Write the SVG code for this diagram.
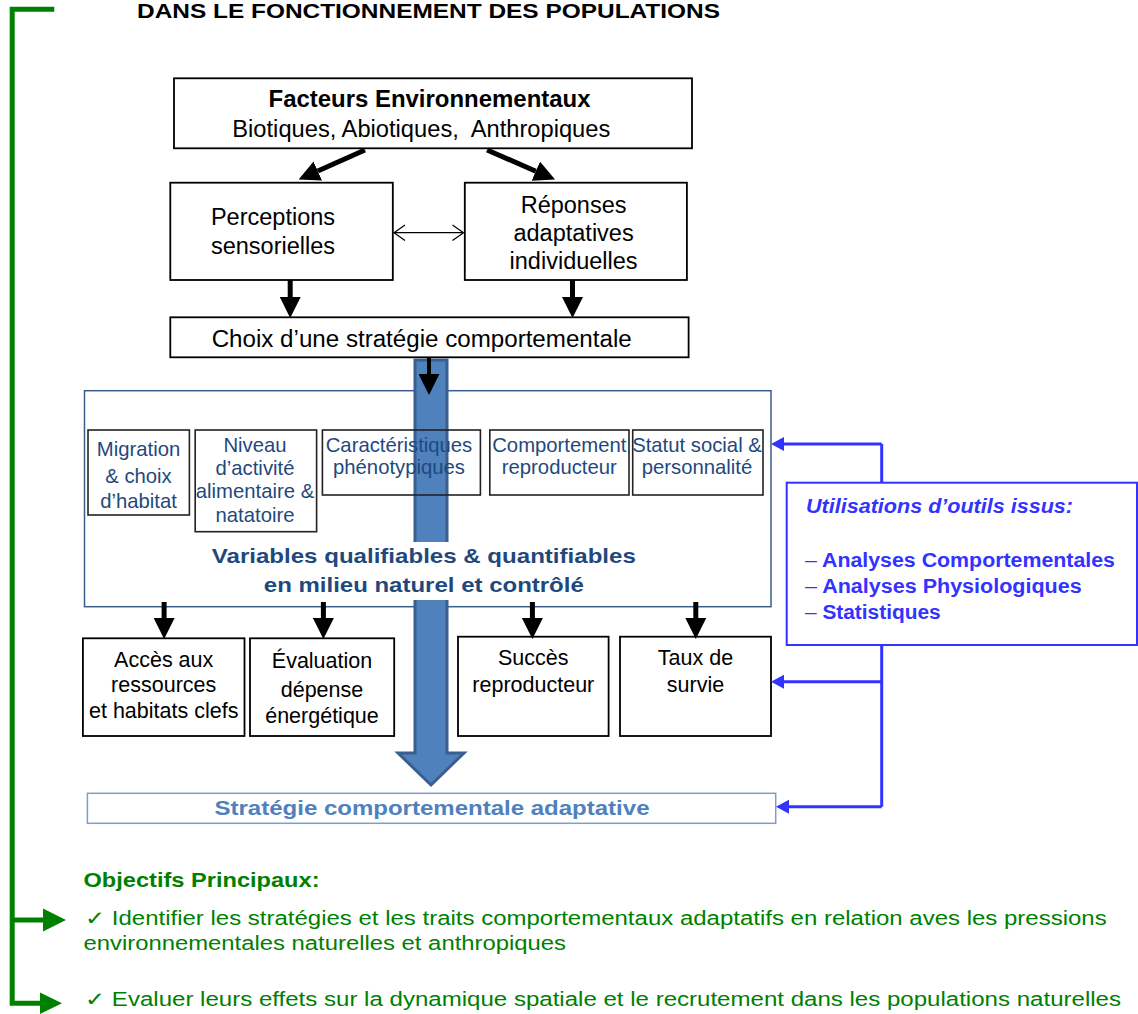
<svg xmlns="http://www.w3.org/2000/svg" width="1138" height="1014" viewBox="0 0 1138 1014">
<style>
text{font-family:"Liberation Sans",Arial,"DejaVu Sans",sans-serif;}
.bx{fill:none;stroke:#000;stroke-width:1.8;}
.sbx{fill:none;stroke:#222;stroke-width:1.6;}
.t23{font-size:23.5px;fill:#000;text-anchor:middle;}
.t21{font-size:21.5px;fill:#000;text-anchor:middle;}
.tv{font-size:20.3px;fill:#1F497D;text-anchor:middle;}
.blk{stroke:#000;stroke-width:5;fill:none;}
.bl{stroke:#3333FF;stroke-width:3;fill:none;}
.gr{stroke:#008000;stroke-width:5;fill:none;}
.gt{fill:#008000;font-size:20px;}
.ut{fill:#3333FF;font-size:20px;font-weight:bold;}
</style>
<defs>
<marker id="ah" markerUnits="userSpaceOnUse" viewBox="0 0 10 10" refX="0" refY="5" markerWidth="21" markerHeight="21" orient="auto"><path d="M0,0 L10,5 L0,10 z" fill="#000"/></marker>
<marker id="bh" markerUnits="userSpaceOnUse" viewBox="0 0 13 14" refX="0" refY="7" markerWidth="13" markerHeight="14" orient="auto"><path d="M0,0 L13,7 L0,14 z" fill="#3333FF"/></marker>
</defs>

<text x="137" y="18.3" font-size="21" font-weight="bold" fill="#000" textLength="583" lengthAdjust="spacingAndGlyphs">DANS LE FONCTIONNEMENT DES POPULATIONS</text>

<g id="facteurs">
<rect class="bx" x="174" y="78.3" width="518" height="70"/>
<text x="268.5" y="106.7" font-size="23" font-weight="bold" textLength="322" lengthAdjust="spacingAndGlyphs">Facteurs Environnementaux</text>
<text x="232.3" y="136.7" font-size="23" textLength="378" lengthAdjust="spacingAndGlyphs">Biotiques, Abiotiques,&#160; Anthropiques</text>
</g>
<g id="perceptions">
<rect class="bx" x="170.3" y="182.7" width="222.5" height="97.3"/>
<text class="t23" x="273" y="225">Perceptions</text>
<text class="t23" x="273" y="254.3">sensorielles</text>
</g>
<g id="reponses">
<rect class="bx" x="464.8" y="182.7" width="222.1" height="97.3"/>
<text class="t23" x="573.6" y="212.7">Réponses</text>
<text class="t23" x="573.6" y="240.7">adaptatives</text>
<text class="t23" x="573.6" y="269">individuelles</text>
</g>
<g id="choix">
<rect class="bx" x="170.3" y="317.3" width="518.3" height="40"/>
<text class="t23" x="421.7" y="346.7" textLength="420" lengthAdjust="spacingAndGlyphs">Choix d’une stratégie comportementale</text>
</g>

<g id="variables">
<rect x="84.5" y="390.7" width="686.5" height="216" fill="none" stroke="#385D8A" stroke-width="1.5"/>
</g>

<g id="fleche-bleue">
<path d="M415,360 H447 V753 H464 L431,785 L398,753 H415 Z" fill="#4F81BD" stroke="#3A5F8E" stroke-width="3"/>
</g>

<g id="variables-texte">
<rect x="205" y="542" width="440" height="58" fill="#fff"/>
<text x="423.8" y="563.3" font-size="21" font-weight="bold" fill="#1F497D" text-anchor="middle" textLength="424" lengthAdjust="spacingAndGlyphs">Variables qualifiables &amp; quantifiables</text>
<text x="423.8" y="591.7" font-size="21" font-weight="bold" fill="#1F497D" text-anchor="middle" textLength="320" lengthAdjust="spacingAndGlyphs">en milieu naturel et contrôlé</text>
</g>

<g id="migration">
<rect class="sbx" x="88" y="430" width="101.4" height="85"/>
<text class="tv" x="138.5" y="456">Migration</text>
<text class="tv" x="138.5" y="482.5">&amp; choix</text>
<text class="tv" x="138.5" y="508.3">d’habitat</text>
</g>
<g id="niveau">
<rect class="sbx" x="195.2" y="430" width="121.4" height="101.7"/>
<text class="tv" x="255" y="452.3">Niveau</text>
<text class="tv" x="255" y="475">d’activité</text>
<text class="tv" x="255" y="498.3">alimentaire &amp;</text>
<text class="tv" x="255" y="521.7">natatoire</text>
</g>
<g id="caracteristiques">
<rect class="sbx" x="322.4" y="430" width="158" height="65"/>
<text class="tv" x="399" y="451.7">Caractéristiques</text>
<text class="tv" x="399" y="474">phénotypiques</text>
</g>
<g id="comportement">
<rect class="sbx" x="489.8" y="430" width="139.2" height="65"/>
<text class="tv" x="559.3" y="451.7">Comportement</text>
<text class="tv" x="559.3" y="474">reproducteur</text>
</g>
<g id="statut">
<rect class="sbx" x="632.7" y="430" width="130.3" height="65"/>
<text class="tv" x="697" y="451.7">Statut social &amp;</text>
<text class="tv" x="697" y="474">personnalité</text>
</g>

<g id="acces">
<rect class="bx" x="82.9" y="638.3" width="161.6" height="97.7"/>
<text class="t21" x="163.7" y="666.7">Accès aux</text>
<text class="t21" x="163.7" y="691.7">ressources</text>
<text class="t21" x="163.7" y="718.3">et habitats clefs</text>
</g>
<g id="evaluation">
<rect class="bx" x="250" y="638.3" width="144.2" height="97.7"/>
<text class="t21" x="322" y="668" font-size="22.5">Évaluation</text>
<text class="t21" x="322" y="696.7" font-size="22.5">dépense</text>
<text class="t21" x="322" y="723.3" font-size="22.5">énergétique</text>
</g>
<g id="succes">
<rect class="bx" x="458" y="636.7" width="150.6" height="99.3"/>
<text class="t21" x="533.3" y="665">Succès</text>
<text class="t21" x="533.3" y="691.7">reproducteur</text>
</g>
<g id="taux">
<rect class="bx" x="620" y="636.7" width="151" height="99.3"/>
<text class="t21" x="695.5" y="665">Taux de</text>
<text class="t21" x="695.5" y="691.7">survie</text>
</g>

<g id="strategie">
<rect x="87.4" y="793.3" width="688.3" height="30" fill="none" stroke="#7BA0CD" stroke-width="1.5"/>
<text x="432" y="815" font-size="21" font-weight="bold" fill="#4F81BD" text-anchor="middle" textLength="435" lengthAdjust="spacingAndGlyphs">Stratégie comportementale adaptative</text>
</g>

<g id="connecteurs">
<path class="blk" d="M364.9,150 L317.8,171" marker-end="url(#ah)"/>
<path class="blk" d="M487.1,150 L535.8,171.2" marker-end="url(#ah)"/>
<path d="M394,232.7 H463.5 M405,225 L394,232.7 L405,240.4 M452.5,225 L463.5,232.7 L452.5,240.4" fill="none" stroke="#000" stroke-width="1.2"/>
<path class="blk" d="M290.2,280 V297" marker-end="url(#ah)"/>
<path class="blk" d="M572.5,280 V297" marker-end="url(#ah)"/>
<path d="M429,357 V374" stroke="#000" stroke-width="4" fill="none" marker-end="url(#ah)"/>
<path class="blk" d="M164.1,602 V618" marker-end="url(#ah)"/>
<path class="blk" d="M323.4,602 V618" marker-end="url(#ah)"/>
<path class="blk" d="M532.4,602 V618" marker-end="url(#ah)"/>
<path class="blk" d="M695.8,602 V618" marker-end="url(#ah)"/>
<path class="bl" d="M881.7,444 V806.7"/>
<path class="bl" d="M881.7,444 H784" marker-end="url(#bh)"/>
<path class="bl" d="M881.7,681.7 H784" marker-end="url(#bh)"/>
<path class="bl" d="M881.7,806.7 H789" marker-end="url(#bh)"/>
<path class="gr" d="M54.3,9.3 H12.2 V1003.3 H41"/>
<path class="gr" d="M12.2,920 H44"/>
<polygon points="43,908.5 66,920 43,931.5" fill="#008000"/>
<polygon points="40,992.5 62,1003.3 40,1014" fill="#008000"/>
</g>

<g id="utilisations">
<rect x="786.7" y="482.7" width="350.3" height="162.3" fill="#fff" stroke="#3333FF" stroke-width="2"/>
<text x="806" y="513.3" font-size="20" font-weight="bold" font-style="italic" fill="#3333FF" textLength="267" lengthAdjust="spacingAndGlyphs">Utilisations d’outils issus:</text>
<text class="ut" x="805" y="566.7" textLength="310" lengthAdjust="spacingAndGlyphs"><tspan font-weight="normal">–</tspan> Analyses Comportementales</text>
<text class="ut" x="805" y="593.3" textLength="276.7" lengthAdjust="spacingAndGlyphs"><tspan font-weight="normal">–</tspan> Analyses Physiologiques</text>
<text class="ut" x="805" y="619.3" textLength="135.7" lengthAdjust="spacingAndGlyphs"><tspan font-weight="normal">–</tspan> Statistiques</text>
</g>

<g id="objectifs">
<text class="gt" x="83.5" y="886.7" font-size="21" font-weight="bold" textLength="236" lengthAdjust="spacingAndGlyphs">Objectifs Principaux:</text>
<text class="gt" x="85" y="924.5" textLength="1021.7" lengthAdjust="spacingAndGlyphs">✓ Identifier les stratégies et les traits comportementaux adaptatifs en relation aves les pressions</text>
<text class="gt" x="83.5" y="950" textLength="482.5" lengthAdjust="spacingAndGlyphs">environnementales naturelles et anthropiques</text>
<text class="gt" x="85" y="1006" textLength="1036" lengthAdjust="spacingAndGlyphs">✓ Evaluer leurs effets sur la dynamique spatiale et le recrutement dans les populations naturelles</text>
</g>
</svg>
